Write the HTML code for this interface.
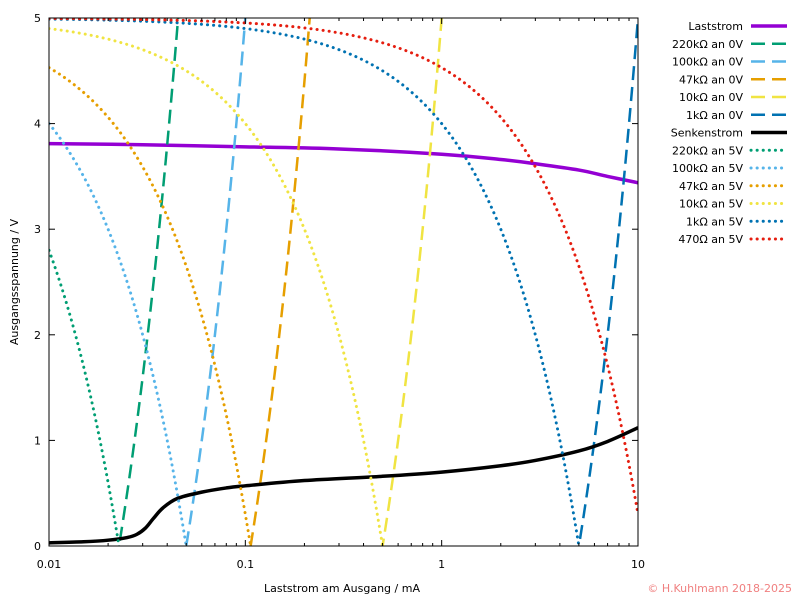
<!DOCTYPE html>
<html><head><meta charset="utf-8"><style>
html,body{margin:0;padding:0;background:#fff;overflow:hidden;width:800px;height:600px;}
svg{display:block;}
svg text{font-family:"DejaVu Sans","Liberation Sans",sans-serif;font-size:11px;fill:#000;}
</style></head><body>
<svg id="chart" width="800" height="600" xmlns="http://www.w3.org/2000/svg">
<defs><clipPath id="clip"><rect x="49" y="18" width="589" height="528"/></clipPath></defs>
<g id="series" clip-path="url(#clip)"></g>
<rect x="49" y="18" width="589" height="528" fill="none" stroke="#000" stroke-width="1"/>
<g id="axes"></g>
<g id="legend"></g>
<text x="342" y="592" text-anchor="middle">Laststrom am Ausgang / mA</text>
<text transform="translate(18,282) rotate(-90)" text-anchor="middle">Ausgangsspannung / V</text>
<text x="792" y="592" text-anchor="end" style="fill:#f08080">© H.Kuhlmann 2018-2025</text>
</svg>
<script>
const xTickVals=[0.01,0.1,1,10];
const xTickLabels=["0.01","0.1","1","10"];
const yTickVals=[0,1,2,3,4,5];
const lowRes=[220,100,47,10,1];
const lowLabels=["220kΩ an 0V","100kΩ an 0V","47kΩ an 0V","10kΩ an 0V","1kΩ an 0V"];
const highRes=[220,100,47,10,1,0.47];
const highLabels=["220kΩ an 5V","100kΩ an 5V","47kΩ an 5V","10kΩ an 5V","1kΩ an 5V","470Ω an 5V"];
const colors=["#009e73","#56b4e9","#e69f00","#f0e442","#0072b2","#e51e10"];
const lastI=[0.01,0.03,0.1,0.3,1,2,3,5,7,10];
const lastV=[3.81,3.8,3.78,3.76,3.71,3.66,3.62,3.56,3.5,3.44];
const senkI=[0.01,0.015,0.02,0.025,0.028,0.031,0.034,0.038,0.045,0.06,0.08,0.1,0.2,0.5,1,2,3,5,7,10];
const senkV=[0.03,0.04,0.055,0.08,0.11,0.17,0.26,0.36,0.45,0.51,0.55,0.57,0.62,0.66,0.7,0.76,0.81,0.9,0.99,1.12];

const X0=49,X1=638,Y0=546,Y1=18;
const xs=v=>X0+(Math.log10(v)+2)/3*(X1-X0);
const ys=v=>Y0-v/5*(Y0-Y1);
const NS="http://www.w3.org/2000/svg";
function mk(tag,attrs,parent){const e=document.createElementNS(NS,tag);for(const k in attrs)e.setAttribute(k,attrs[k]);parent.appendChild(e);return e;}
const axes=document.getElementById('axes'),series=document.getElementById('series'),legend=document.getElementById('legend');

for(let d=-2;d<1;d++){for(let m=1;m<10;m++){const v=m*Math.pow(10,d);const x=xs(v);const len=m==1?6:3;
 const t1=mk('line',{x1:x,x2:x,y1:Y0,y2:Y0-len,stroke:'#000'},axes);
 
 const t2=mk('line',{x1:x,x2:x,y1:Y1,y2:Y1+len,stroke:'#000'},axes);
 }}
xTickVals.forEach((v,i)=>{const t=mk('text',{x:xs(v),y:568,'text-anchor':'middle'},axes);t.textContent=xTickLabels[i];
 });
yTickVals.forEach(v=>{const y=ys(v);
 const l=mk('line',{x1:X0,x2:X0+6,y1:y,y2:y,stroke:'#000'},axes);
 
 const r=mk('line',{x1:X1,x2:X1-6,y1:y,y2:y,stroke:'#000'},axes);
 
 const t=mk('text',{x:41,y:y+4,'text-anchor':'end'},axes);t.textContent=String(v);
 });

function pathFrom(fn){let d='';const N=600;for(let i=0;i<=N;i++){const lv=-2+3*i/N;const I=Math.pow(10,lv);let V=fn(I);V=Math.max(-0.1,Math.min(5.1,V));d+=(i?'L':'M')+xs(I).toFixed(2)+','+ys(V).toFixed(2);}return d;}
function smoothPath(a,b){const P=a.map((v,i)=>[xs(v),ys(b[i])]);let d='M'+P[0][0].toFixed(2)+','+P[0][1].toFixed(2);
 for(let i=0;i<P.length-1;i++){const p0=P[Math.max(0,i-1)],p1=P[i],p2=P[i+1],p3=P[Math.min(P.length-1,i+2)];
  const c1=[p1[0]+(p2[0]-p0[0])/6,p1[1]+(p2[1]-p0[1])/6],c2=[p2[0]-(p3[0]-p1[0])/6,p2[1]-(p3[1]-p1[1])/6];
  d+='C'+c1[0].toFixed(2)+','+c1[1].toFixed(2)+' '+c2[0].toFixed(2)+','+c2[1].toFixed(2)+' '+p2[0].toFixed(2)+','+p2[1].toFixed(2);}
 return d;}

const dashLow='14 7',dashHigh='0.1 6';
const p1=mk('path',{d:smoothPath(lastI,lastV),fill:'none',stroke:'#9400d3','stroke-width':3.5},series);

lowRes.forEach((R,i)=>{const p=mk('path',{d:pathFrom(I=>R*I-5),fill:'none',stroke:colors[i],'stroke-width':2.5,'stroke-dasharray':dashLow},series);
 });
const p2=mk('path',{d:smoothPath(senkI,senkV),fill:'none',stroke:'#000','stroke-width':3.5},series);

highRes.forEach((R,i)=>{const p=mk('path',{d:pathFrom(I=>5-R*I),fill:'none',stroke:colors[i],'stroke-width':3,'stroke-dasharray':dashHigh,'stroke-linecap':'round'},series);
 });

const entries=[["Laststrom","#9400d3",3.5,null]];
lowLabels.forEach((l,i)=>entries.push([l,colors[i],2.5,dashLow]));
entries.push(["Senkenstrom","#000",3.5,null]);
highLabels.forEach((l,i)=>entries.push([l,colors[i],3,dashHigh]));
entries.forEach((e,i)=>{const y=26+i*17.75;
 const g=mk('g',{},legend);
 const t=mk('text',{x:743,y:y+4,'text-anchor':'end'},g);t.textContent=e[0];
 const a={x1:751,x2:787,y1:y,y2:y,stroke:e[1],'stroke-width':e[2]};if(e[3]){a['stroke-dasharray']=e[3];a['stroke-linecap']=e[3]==dashHigh?'round':'butt';}
 mk('line',a,g);});
</script>
</body></html>
